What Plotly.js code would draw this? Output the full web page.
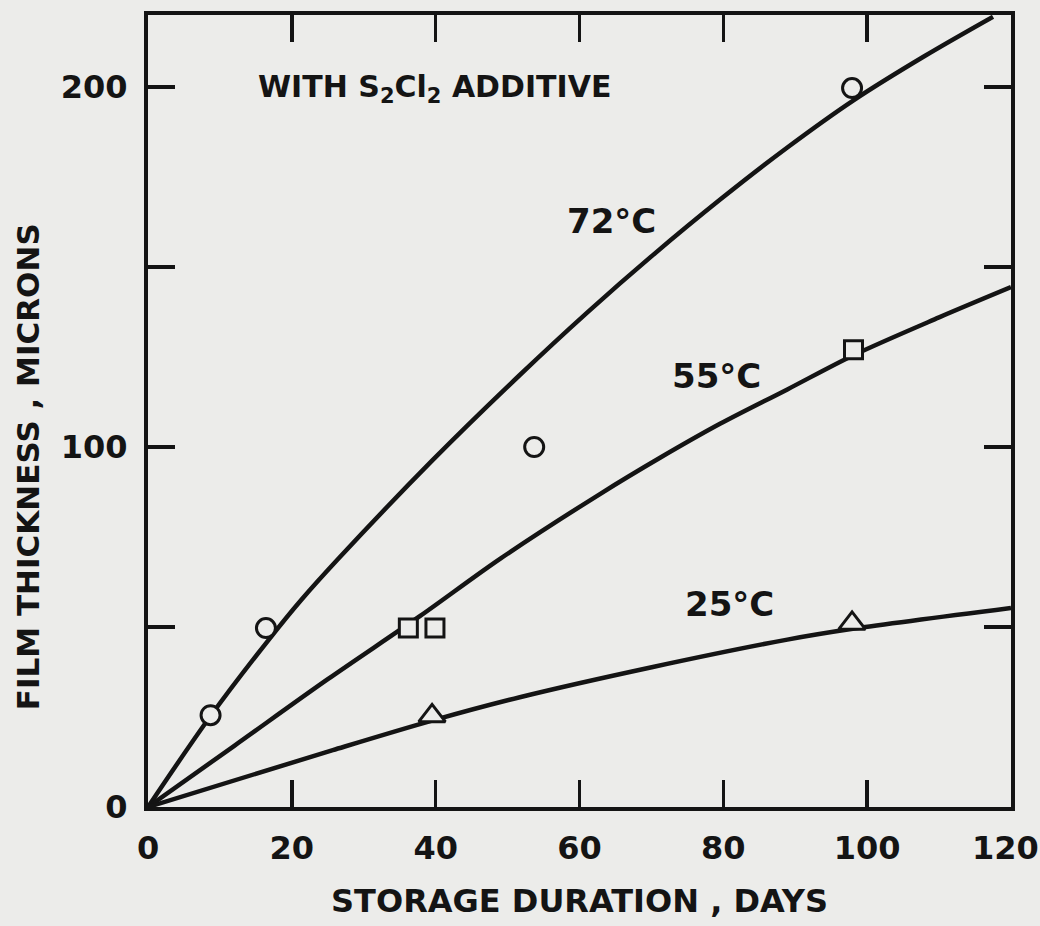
<!DOCTYPE html>
<html>
<head>
<meta charset="utf-8">
<script src="https://cdn.plot.ly/plotly-3.0.1.min.js"></script>
<style>
  html, body { margin: 0; padding: 0; background: #ececea; }
  #chart { width: 1040px; height: 926px; }
</style>
</head>
<body>
<div id="chart"></div>
<script>
// ---- Data ----
// Measured points (storage duration in days, film thickness in microns)
const days72 = [8.7, 16.4, 53.7, 97.9];
const thick72 = [25.5, 49.7, 100, 199.7];
const days55 = [36.2, 39.9, 98.1];
const thick55 = [49.7, 49.7, 127];
const days25 = [39.5, 97.9];
const thick25 = [25.3, 51];

// Hand-drawn fitted curves
const curveDays72 = [0, 8.6, 17, 21.3, 26.3, 39.4, 51.7, 61.1, 70.2, 79.6, 88.9, 98.1, 108, 117.5];
const curveThick72 = [0, 25, 47, 57.5, 68.6, 96, 120, 137.4, 153.3, 168.8, 183.2, 196.3, 208.6, 219.5];
const curveDays55 = [0, 12, 25, 37.8, 49, 62.9, 71.2, 79.6, 88.9, 98.1, 110, 120];
const curveThick55 = [0, 17, 35.5, 53, 69, 87, 97, 106.5, 116, 125.5, 136, 144.4];
const curveDays25 = [0, 25.7, 39.5, 51.7, 70.2, 88.9, 98, 120];
const curveThick25 = [0, 15.8, 24, 30.5, 38.9, 46.5, 49.5, 55.3];

// Axis ticks
const xTickVals = [0, 20, 40, 60, 80, 100, 120];
const xTickText = ['0', '20', '40', '60', '80', '100', '120'];
const yTickVals = [0, 100, 200];
const yTickText = ['0', '100', '200'];
const yMinorTickVals = [50, 150];

// Text
const curveLabels = ['72°C', '55°C', '25°C'];
const noteText = 'WITH S<sub>2</sub>Cl<sub>2</sub> ADDITIVE';
const xTitle = 'STORAGE DURATION , DAYS';
const yTitle = 'FILM THICKNESS , MICRONS';

// ---- Styling ----
const INK = '#141414';
const PAPER = '#ececea';
const FONT = 'DejaVu Sans, Liberation Sans, sans-serif';
const TICKFONT = { family: FONT, size: 32, color: INK, weight: 'bold' };

function curve(x, y) {
  return { x: x, y: y, mode: 'lines', type: 'scatter', hoverinfo: 'skip',
    line: { color: INK, width: 4.5, shape: 'spline', smoothing: 0.9 }, showlegend: false };
}
function pts(x, y, sym, size) {
  return { x: x, y: y, mode: 'markers', type: 'scatter', showlegend: false,
    marker: { symbol: sym, size: size, color: PAPER, line: { color: INK, width: 3 } } };
}

const traces = [
  curve(curveDays72, curveThick72),
  curve(curveDays55, curveThick55),
  curve(curveDays25, curveThick25),
  pts(days72, thick72, 'circle', 19),
  pts(days55, thick55, 'square', 18),
  pts(days25, thick25, 'triangle-up', 23)
];

const tickStyle = { ticks: 'inside', ticklen: 27, tickwidth: 3.5, tickcolor: INK };
const axisCommon = Object.assign({
  showgrid: false, zeroline: false, showline: true, linecolor: INK, linewidth: 4,
  mirror: 'ticks', tickfont: TICKFONT
}, tickStyle);

// The last x label sits at the frame's right edge; it is drawn as an annotation
// nudged left so that it stays inside the page (as in the reference).
const nLast = xTickVals.length - 1;

const layout = {
  width: 1040, height: 926,
  paper_bgcolor: PAPER, plot_bgcolor: PAPER,
  margin: { l: 148, r: 29, t: 15, b: 119 },
  showlegend: false,
  xaxis: Object.assign({}, axisCommon, {
    range: [0, 120], tickmode: 'array',
    tickvals: xTickVals.slice(0, nLast), ticktext: xTickText.slice(0, nLast),
    minor: Object.assign({ tickvals: [xTickVals[nLast]], showgrid: false }, tickStyle),
    ticklabelstandoff: 10,
    title: { text: xTitle, font: { family: FONT, size: 32, color: INK, weight: 'bold' }, standoff: 24 }
  }),
  yaxis: Object.assign({}, axisCommon, {
    range: [0, 220], tickmode: 'array', tickvals: yTickVals, ticktext: yTickText,
    ticklabelstandoff: 10,
    minor: Object.assign({ tickvals: yMinorTickVals, showgrid: false }, tickStyle)
  }),
  annotations: [
    { x: xTickVals[nLast], xref: 'x', xshift: -6, y: 0, yref: 'paper', yshift: -41,
      text: xTickText[nLast], showarrow: false, xanchor: 'center', yanchor: 'middle',
      font: TICKFONT },
    { x: 0, xref: 'paper', xshift: -120, y: 94.4, yref: 'y', text: yTitle, textangle: -90,
      showarrow: false, xanchor: 'center', yanchor: 'middle',
      font: { family: FONT, size: 31, color: INK, weight: 'bold' } },
    { x: 39.9, y: 199.7, xref: 'x', yref: 'y', text: noteText, showarrow: false,
      xanchor: 'center', yanchor: 'middle',
      font: { family: FONT, size: 30, color: INK, weight: 'bold' } },
    { x: 64.5, y: 162.8, xref: 'x', yref: 'y', text: curveLabels[0], showarrow: false,
      font: { family: FONT, size: 34, color: INK, weight: 'bold' } },
    { x: 79.1, y: 119.7, xref: 'x', yref: 'y', text: curveLabels[1], showarrow: false,
      font: { family: FONT, size: 34, color: INK, weight: 'bold' } },
    { x: 80.9, y: 56.4, xref: 'x', yref: 'y', text: curveLabels[2], showarrow: false,
      font: { family: FONT, size: 34, color: INK, weight: 'bold' } }
  ]
};

Plotly.newPlot('chart', traces, layout, { displayModeBar: false, staticPlot: true });
</script>
</body>
</html>
